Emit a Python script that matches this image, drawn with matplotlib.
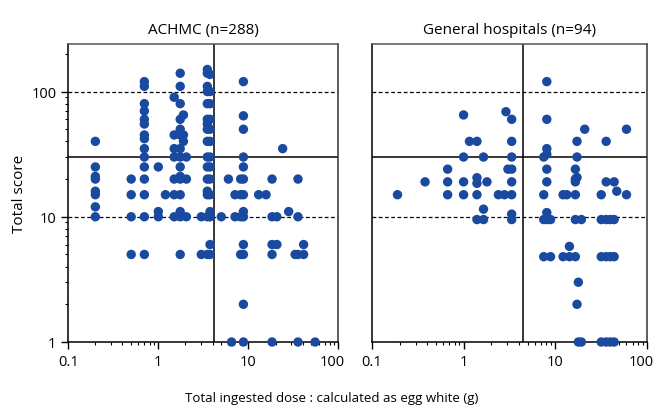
import matplotlib
matplotlib.use("Agg")
import matplotlib.pyplot as plt
import matplotlib.transforms as mtransforms
from matplotlib.ticker import LogLocator, NullFormatter, FixedLocator, FixedFormatter
import numpy as np

plt.rcParams['font.family'] = ['Open Sans', 'DejaVu Sans']

# ACHMC: dose column -> scores seen in that column
achmc = {
    0.2: [40, 25, 21, 20, 16, 15, 12, 10],
    0.5: [20, 15, 10, 5],
    0.7: [120, 110, 80, 70, 60, 55, 45, 42, 35, 30, 25, 20, 15, 10, 5],
    1.0: [25, 11, 10],
    1.2: [15],
    1.5: [90, 45, 35, 30, 20, 15, 10],
    1.75: [140, 110, 80, 60, 50, 45, 35, 30, 25, 21, 20, 15, 11, 10, 5],
    1.9: [65, 45, 40],
    2.05: [30, 20, 10],
    3.0: [10, 5],
    3.5: [150, 140, 110, 100, 80, 60, 55, 50, 40, 30, 25, 20, 16, 15, 10, 5],
    3.75: [137, 100, 80, 60, 50, 40, 30, 25, 20, 15, 11, 10, 6, 5],
    5.0: [10],
    6.0: [20],
    6.5: [1],
    7.1: [15, 10],
    8.2: [20, 15, 10, 5],
    8.8: [120, 64, 50, 30, 25, 20, 15, 11, 10, 6, 5, 2, 1],
    13.0: [15],
    15.7: [15],
    18.3: [20, 10, 6, 5, 1],
    20.7: [10, 6],
    24.0: [35],
    28.0: [11],
    33.0: [5],
    35.5: [20, 10, 5, 1],
    41.0: [6, 5],
    55.0: [1],
}

# General hospitals
general = {
    0.19: [15],
    0.38: [19],
    0.67: [24, 19, 15],
    1.0: [65, 30, 19, 15],
    1.16: [40],
    1.4: [40, 20.5, 18.5, 15, 9.5],
    1.65: [30, 11.5, 9.5],
    1.8: [19],
    2.4: [15],
    2.8: [15],
    2.9: [69],
    3.05: [24],
    3.35: [60, 40, 30, 24, 19, 15, 10.5, 9.5],
    7.5: [30, 15, 9.5, 4.8],
    8.1: [120, 60, 35, 31.6, 24, 19, 10.8, 9.5],
    8.9: [9.5, 4.8],
    12.2: [15, 4.8],
    13.4: [15],
    14.3: [5.8, 4.8],
    16.6: [24, 20, 19, 15, 9.5, 4.8],
    17.3: [40, 30, 20.6, 2],
    17.9: [3, 1],
    19.3: [9.5, 1],
    21.0: [50],
    31.8: [15, 9.5, 4.8, 1],
    36.0: [40, 19, 9.5, 4.8, 1],
    40.0: [9.5, 4.8, 1],
    44.0: [19, 9.5, 4.8, 1],
    47.0: [16],
    60.0: [50, 15],
}

median_dose = [4.1, 4.4]
titles = ["ACHMC (n=288)", "General hospitals (n=94)"]
xticks = [0.1, 1, 10, 100]
xticklabels = ["0.1", "1", "10", "100"]
yticks = [1, 10, 100]
yticklabels = ["1", "10", "100"]

blue = '#1a4a9f'

fig = plt.figure(figsize=(6.56, 4.14), dpi=100)
ax1 = fig.add_axes([0.104, 0.1715, 0.412, 0.72])
ax2 = fig.add_axes([0.567, 0.1715, 0.419, 0.72])

for ax, data, med, title in zip([ax1, ax2], [achmc, general], median_dose, titles):
    xs, ys = [], []
    for x, vals in data.items():
        xs += [x] * len(vals)
        ys += vals
    ax.set_xscale('log')
    ax.set_yscale('log')
    ax.set_xlim(0.1, 100)
    ax.set_ylim(1, 240)
    ax.axhline(10, color='black', lw=0.9, ls=(0, (3, 2)), zorder=1)
    ax.axhline(100, color='black', lw=0.9, ls=(0, (3, 2)), zorder=1)
    ax.axhline(30, color='black', lw=1.1, zorder=1)
    ax.axvline(med, color='black', lw=1.1, zorder=1)
    ax.scatter(xs, ys, s=46, color=blue, edgecolors='none', zorder=3, clip_on=False)
    ax.set_title(title, fontsize=11, pad=8)
    ax.xaxis.set_major_locator(FixedLocator(xticks))
    ax.xaxis.set_major_formatter(FixedFormatter(xticklabels))
    ax.xaxis.set_minor_locator(LogLocator(base=10, subs=np.arange(2, 10)))
    ax.xaxis.set_minor_formatter(NullFormatter())
    ax.tick_params(axis='x', which='major', direction='out', length=5, width=1, labelsize=10.5, pad=4)
    ax.tick_params(axis='x', which='minor', direction='out', length=2.5, width=0.8)
    for s in ax.spines.values():
        s.set_linewidth(1.1)
    ax.spines['top'].set_color('#555555')
    ax.spines['right'].set_color('#333333')
    # the "100" label sits a little left of the axis end
    lab = ax.get_xticklabels()[-1]
    lab.set_transform(lab.get_transform() + mtransforms.ScaledTranslation(-6 / 100, 0, fig.dpi_scale_trans))

ax1.yaxis.set_major_locator(FixedLocator(yticks))
ax1.yaxis.set_major_formatter(FixedFormatter(yticklabels))
ax1.yaxis.set_minor_locator(LogLocator(base=10, subs=np.arange(2, 10)))
ax1.yaxis.set_minor_formatter(NullFormatter())
ax1.tick_params(axis='y', which='major', direction='out', length=5, width=1, labelsize=10.5)
ax1.tick_params(axis='y', which='minor', direction='out', length=2.5, width=0.8)
ax1.set_ylabel('Total score', fontsize=11, labelpad=3)

ax2.yaxis.set_major_locator(FixedLocator([]))
ax2.yaxis.set_minor_locator(FixedLocator([]))

fig.text(0.505, 0.03, 'Total ingested dose : calculated as egg white (g)', ha='center', fontsize=9.5)

fig.savefig('out.png', dpi=100)
